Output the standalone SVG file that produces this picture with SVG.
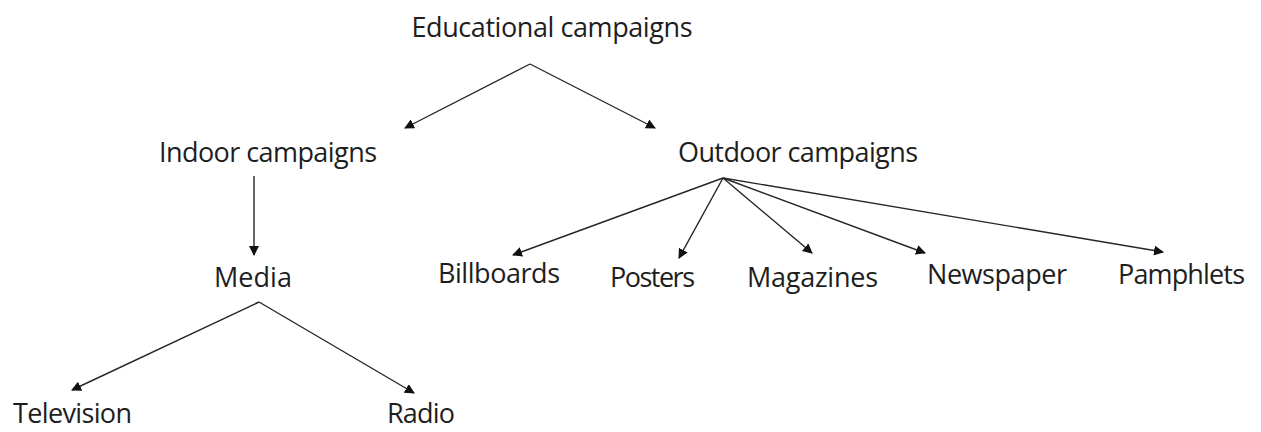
<svg xmlns="http://www.w3.org/2000/svg" width="1261" height="432" viewBox="0 0 1261 432">
<style>
text{font-family:"Open Sans","Liberation Sans",sans-serif;font-size:27px;fill:#1e1e1e;text-anchor:middle}
.c line{stroke:#262626;stroke-width:1.4;marker-end:url(#ah)}
</style>
<defs>
<marker id="ah" viewBox="0 0 10 10" refX="9" refY="5" markerWidth="10" markerHeight="10" markerUnits="userSpaceOnUse" orient="auto">
<path d="M0,0L10,5L0,10z" fill="#111"/>
</marker>
</defs>
<rect width="1261" height="432" fill="#fff"/>
<g class="c" id="connectors">
<line x1="530" y1="64" x2="405" y2="128"/>
<line x1="530" y1="64" x2="655" y2="128"/>
<line x1="254" y1="176" x2="254" y2="255"/>
<line x1="259" y1="302" x2="72" y2="390"/>
<line x1="259" y1="302" x2="414" y2="393"/>
<line x1="723" y1="178" x2="513" y2="255"/>
<line x1="723" y1="178" x2="679" y2="258"/>
<line x1="723" y1="178" x2="812" y2="253"/>
<line x1="723" y1="178" x2="925" y2="253"/>
<line x1="723" y1="178" x2="1163" y2="252"/>
</g>
<g id="n-educational"><text x="552" y="37" textLength="281">Educational campaigns</text></g>
<g id="n-indoor"><text x="268" y="162" textLength="218">Indoor campaigns</text></g>
<g id="n-outdoor"><text x="798" y="162" textLength="240">Outdoor campaigns</text></g>
<g id="n-media"><text x="253" y="287" textLength="78">Media</text></g>
<g id="n-billboards"><text x="499" y="283" textLength="122">Billboards</text></g>
<g id="n-posters"><text x="652.5" y="287" textLength="85">Posters</text></g>
<g id="n-magazines"><text x="812.5" y="287" textLength="131">Magazines</text></g>
<g id="n-newspaper"><text x="997" y="284" textLength="140">Newspaper</text></g>
<g id="n-pamphlets"><text x="1181.5" y="284" textLength="127">Pamphlets</text></g>
<g id="n-television"><text x="72.5" y="423" textLength="119">Television</text></g>
<g id="n-radio"><text x="421" y="423" textLength="68">Radio</text></g>
</svg>
